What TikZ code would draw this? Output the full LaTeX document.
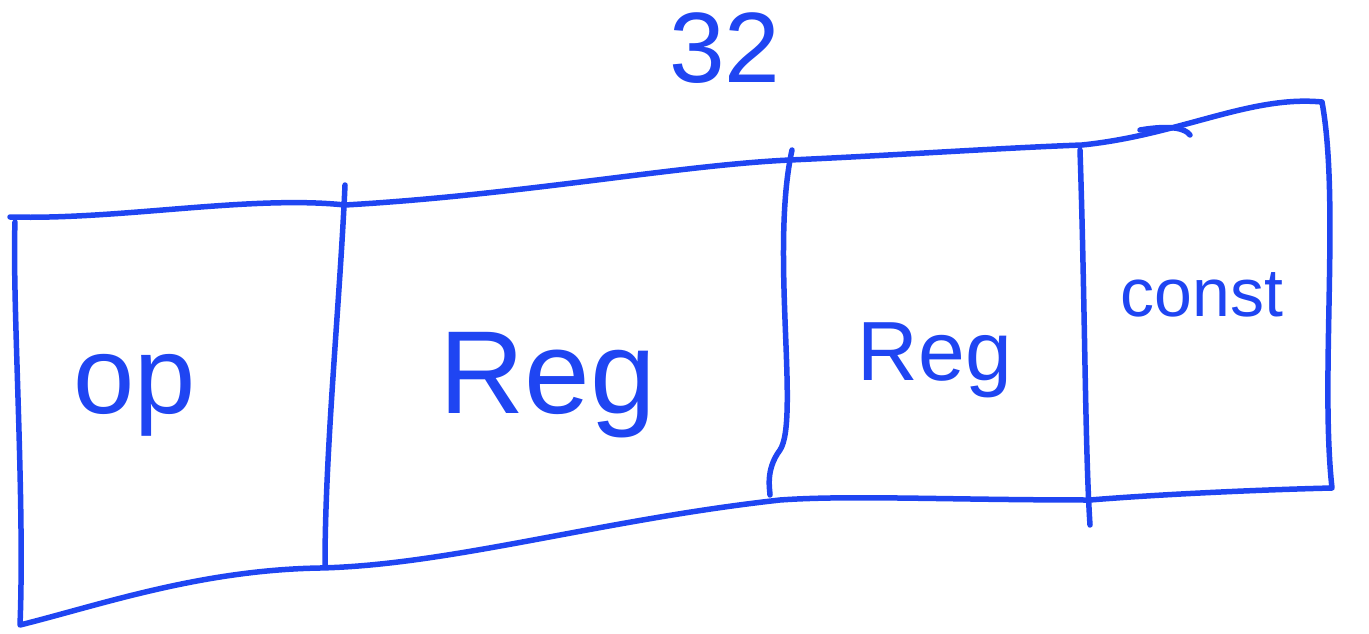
\documentclass[tikz,border=0pt]{standalone}
\usepackage{fontspec}
\setmainfont{Liberation Sans}
\definecolor{ink}{HTML}{1F45F2}
\tikzset{
  pen/.style={draw=ink, line width=5.5pt, line cap=round, line join=round},
  lbl/.style={text=ink, inner sep=0pt, font=\fontsize{#1}{#1}\selectfont},
}
\begin{document}
\begin{tikzpicture}[x=1pt,y=-1pt]
\useasboundingbox (0,0) rectangle (1369,634);
% outer outline
\draw[pen] (10,217) .. controls (120,220) and (250,195) .. (345,205)
  .. controls (520,195) and (680,165) .. (790,160)
  .. controls (900,155) and (1000,148) .. (1082,145)
  .. controls (1180,135) and (1250,95) .. (1322,102)
  .. controls (1340,200) and (1320,380) .. (1332,488)
  .. controls (1250,490) and (1150,495) .. (1090,500)
  .. controls (950,500) and (850,495) .. (780,500)
  .. controls (600,520) and (450,565) .. (320,568)
  .. controls (200,570) and (100,605) .. (20,625)
  .. controls (25,500) and (12,300) .. (15,222);
% dividers
\coordinate (d1t) at (345,185); \coordinate (d1b) at (325,565);
\coordinate (d2t) at (792,150); \coordinate (d2b) at (770,495);
\coordinate (d3t) at (1080,150); \coordinate (d3b) at (1090,525);
\draw[pen] (d1t) .. controls (340,300) and (325,450) .. (d1b);
\draw[pen] (d2t) .. controls (770,250) and (800,420) .. (780,450) .. controls (765,470) and (770,490) .. (d2b);
\draw[pen] (d3t) .. controls (1085,300) and (1085,450) .. (d3b);
\draw[pen] (1140,130) .. controls (1170,125) and (1185,128) .. (1190,135);
% labels
\node[lbl=110pt] (op) at (135,395) {op};
\node[lbl=118pt] (reg1) at (548,385) {Reg};
\node[lbl=84pt] (reg2) at (935,360) {Reg};
\node[lbl=68pt] (const) at (1202,295) {const};
\node[lbl=100pt] (w) at (725,48) {32};
\end{tikzpicture}
\end{document}
